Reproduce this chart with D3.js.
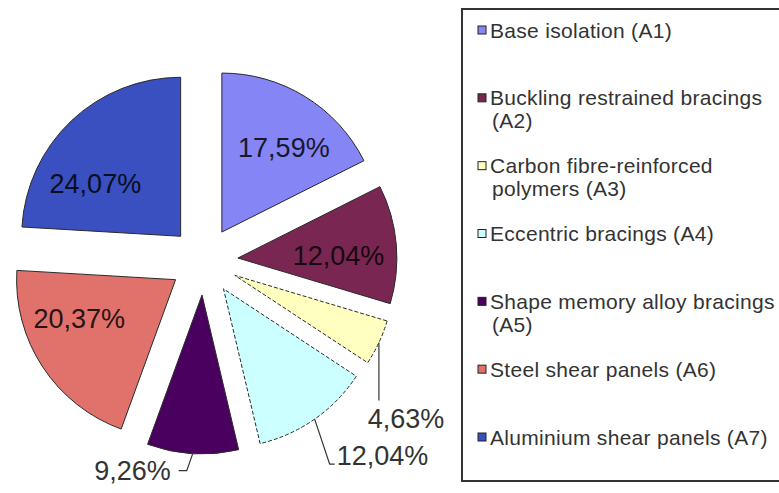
<!DOCTYPE html>
<html>
<head>
<meta charset="utf-8">
<script src="https://cdn.jsdelivr.net/npm/d3@7"></script>
<style>
  body { margin: 0; background: #fff; }
  svg { display: block; font-family: Arial, "Liberation Sans", sans-serif; }
</style>
</head>
<body>
<script>
var width = 779;
var height = 493;

// chart values, clockwise from 12 o'clock
var categories = ["A1", "A2", "A3", "A4", "A5", "A6", "A7"];
var legendLabels = [
  "Base isolation (A1)",
  "Buckling restrained bracings\n(A2)",
  "Carbon fibre-reinforced\npolymers (A3)",
  "Eccentric bracings (A4)",
  "Shape memory alloy bracings\n(A5)",
  "Steel shear panels (A6)",
  "Aluminium shear panels (A7)"
];
var values = [17.59, 12.04, 4.63, 12.04, 9.26, 20.37, 24.07];
var valueLabels = ["17,59%", "12,04%", "4,63%", "12,04%", "9,26%", "20,37%", "24,07%"];

var colors = ["#8585f5", "#7a2652", "#ffffc0", "#ccffff", "#4a005e", "#e0716b", "#3a4fc0"];

// pie geometry
var cx = 204, cy = 261;
var radius = 159;
var explode = 34;

var svg = d3.select("body").append("svg")
  .attr("width", width)
  .attr("height", height);

var pie = d3.pie().sort(null).value(function (d) { return d; });
var arcs = pie(values);

var arc = d3.arc().innerRadius(0).outerRadius(radius);

function mid(d) { return (d.startAngle + d.endAngle) / 2; }
function polar(a, r) { return [Math.sin(a) * r, -Math.cos(a) * r]; }

var g = svg.append("g").attr("transform", "translate(" + cx + "," + cy + ")");

var slice = g.selectAll("g.slice")
  .data(arcs)
  .enter().append("g")
  .attr("class", "slice")
  .attr("transform", function (d) {
    var p = polar(mid(d), explode);
    return "translate(" + p[0] + "," + p[1] + ")";
  });

slice.append("path")
  .attr("d", arc)
  .style("fill", function (d, i) { return colors[i]; })
  .style("stroke", "#2a2a2a")
  .style("stroke-width", 1)
  .style("stroke-dasharray", function (d, i) { return (i == 2 || i == 3) ? "4,2" : null; });

// labels inside the big slices
var inside = [0, 1, 5, 6];
var nudge = { 0: [9, 1], 1: [0, 6], 5: [-12, -17], 6: [-16, 20] };

slice.filter(function (d, i) { return inside.indexOf(i) >= 0; })
  .append("text")
  .attr("transform", function (d) {
    var p = polar(mid(d), 101);
    var n = nudge[d.index];
    return "translate(" + (p[0] + n[0]) + "," + (p[1] + n[1]) + ")";
  })
  .attr("text-anchor", "middle")
  .attr("dy", "0.36em")
  .style("font-size", "27px")
  .style("fill", function (d, i) { return d3.interpolateRgb(colors[d.index], "#000")(0.82); })
  .text(function (d) { return valueLabels[d.index]; });

// labels outside the small slices, with leader lines
var leaders = {
  2: { pts: [[0, 0], [0, 58]], at: [27, 85], anchor: "middle" },
  3: { pts: [[0, 0], [15, 45], [20, 45]], at: [22, 46], anchor: "start" },
  4: { pts: [[0, 0], [-6, 17], [-14, 17]], at: [-22, 26], anchor: "end" }
};

slice.filter(function (d) { return leaders[d.index]; })
  .each(function (d) {
    var L = leaders[d.index];
    var p = polar(mid(d), radius);
    var sel = d3.select(this);
    sel.append("path")
      .attr("d", d3.line()(L.pts.map(function (q) { return [p[0] + q[0], p[1] + q[1]]; })))
      .style("fill", "none")
      .style("stroke", "#333")
      .style("stroke-width", 1.2);
    sel.append("text")
      .attr("x", p[0] + L.at[0])
      .attr("y", p[1] + L.at[1])
      .attr("text-anchor", L.anchor)
      .style("font-size", "27px")
      .style("fill", "#333")
      .text(valueLabels[d.index]);
  });

// legend
var legend = svg.append("g");
legend.append("rect")
  .attr("x", 462).attr("y", 9)
  .attr("width", 330).attr("height", 472)
  .style("fill", "none")
  .style("stroke", "#333")
  .style("stroke-width", 2);

var ly = d3.scalePoint().domain(categories).range([30, 437]);

var item = legend.selectAll("g.item")
  .data(categories)
  .enter().append("g")
  .attr("class", "item")
  .attr("transform", function (d) { return "translate(478," + ly(d) + ")"; });

item.append("rect")
  .attr("x", 0).attr("y", -4)
  .attr("width", 8).attr("height", 8)
  .style("fill", function (d, i) { return colors[i]; })
  .style("stroke", "#222")
  .style("stroke-width", 1);

item.append("text")
  .style("font-size", "21px")
  .style("letter-spacing", "0.3px")
  .style("fill", "#333")
  .selectAll("tspan")
  .data(function (d, i) { return legendLabels[i].split("\n"); })
  .enter().append("tspan")
  .attr("x", function (d, j) { return j == 0 ? 12 : 14; })
  .attr("y", function (d, j) { return j * 23; })
  .attr("dy", "0.36em")
  .text(function (d) { return d; });
</script>
</body>
</html>
